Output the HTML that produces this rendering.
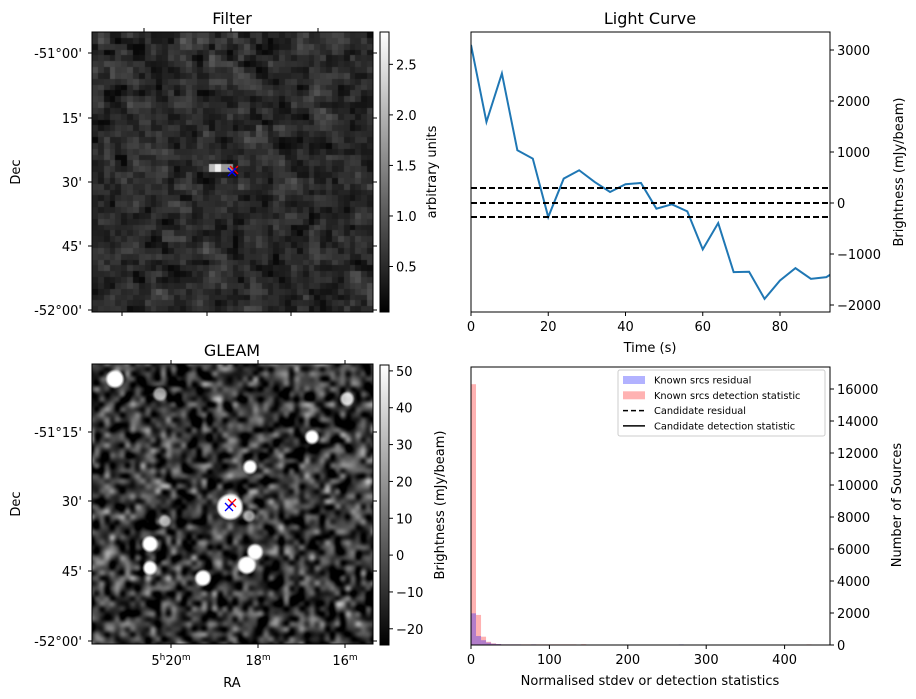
<!DOCTYPE html>
<html><head><meta charset="utf-8"><style>
body{margin:0;background:#fff;width:916px;height:699px;overflow:hidden;font-family:"Liberation Sans","DejaVu Sans",sans-serif}
svg text{font-family:"DejaVu Sans","Liberation Sans",sans-serif;fill:#000}
canvas{position:absolute}
</style></head><body>
<canvas id="filt" width="281" height="280" style="left:92px;top:32px"></canvas>
<canvas id="gleam" width="281" height="280" style="left:92px;top:364px"></canvas>
<svg id="s" width="916" height="699" style="position:absolute;left:0;top:0">
<defs>
<linearGradient id="gray" x1="0" y1="1" x2="0" y2="0"><stop offset="0" stop-color="#000"/><stop offset="1" stop-color="#fff"/></linearGradient>
<clipPath id="lcclip"><rect x="471" y="32" width="359" height="280"/></clipPath>
</defs>
</svg>
<script>
// ---- Light curve data ----
const lcTimes=[0,4,8,12,16,20,24,28,32,36,40,44,48,52,56,60,64,68,72,76,80,84,88,92,96];
const lcFlux=[3100,1590,2540,1035,870,-275,478,642,413,216,367,393,-111,-26,-164,-910,-393,-1356,-1349,-1880,-1520,-1277,-1487,-1454,-1260];
const lcThresh=[295,0,-275];
const lcXTicks=[0,20,40,60,80];
const lcYTicks=[3000,2000,1000,0,-1000,-2000];
// ---- Histogram data ----
const histBinWidth=6.4;
const redCounts=[16300,1880,520,200,100,60,40,40,40,40,40,40,40,40,40,40,40,40,40,40,40,0,40];
const blueCounts=[1980,560,300,150,80,60,40,40,40,40,20,20,40,20];
const redOutliers=[140,428];
const blueOutliers=[265];
const outlierCount=40;
const histXTicks=[0,100,200,300,400];
const histYTicks=[0,2000,4000,6000,8000,10000,12000,14000,16000];
const filtCbTicks=[0.5,1.0,1.5,2.0,2.5];
const gleamCbTicks=[-20,-10,0,10,20,30,40,50];

const S=document.getElementById('s');
const NS='http://www.w3.org/2000/svg';
function el(t,a,txt){const e=document.createElementNS(NS,t);for(const k in a)e.setAttribute(k,a[k]);if(txt!==undefined)e.textContent=txt;S.appendChild(e);return e;}

// Light curve axes
const lcX=t=>471+t*3.8625, lcY=v=>203-v*0.051;
let pts=lcTimes.map((t,i)=>lcX(t)+','+lcY(lcFlux[i])).join(' ');
let ln=el('polyline',{points:pts,fill:'none',stroke:'#1f77b4','stroke-width':2,'clip-path':'url(#lcclip)'});


lcThresh.forEach((v,i)=>{const l=el('line',{x1:471,x2:830,y1:lcY(v),y2:lcY(v),stroke:'#000','stroke-width':2,'stroke-dasharray':'6,3'});

});
el('rect',{x:471,y:32,width:359,height:280,fill:'none',stroke:'#000','stroke-width':1,});
lcXTicks.forEach(t=>{el('line',{x1:lcX(t),x2:lcX(t),y1:312,y2:316,stroke:'#000'});const tx=el('text',{x:lcX(t),y:331,'font-size':13,'text-anchor':'middle'},t);

});
lcYTicks.forEach(v=>{el('line',{x1:830,x2:834,y1:lcY(v),y2:lcY(v),stroke:'#000'});const tx=el('text',{x:837,y:lcY(v)+5,'font-size':13},String(v).replace('-','\u2212'));

});
el('text',{x:650,y:24,'font-size':16,'text-anchor':'middle',},'Light Curve');
el('text',{x:650,y:352,'font-size':13,'text-anchor':'middle',},'Time (s)');
el('text',{x:903,y:172,'font-size':13,'text-anchor':'middle',transform:'rotate(-90 903 172)',},'Brightness (mJy/beam)');

// Histogram
const hX=v=>471+v*0.784, hY=c=>645-c*0.016;
function bars(counts,color,name){counts.forEach((c,i)=>{if(!c)return;const r=el('rect',{x:hX(i*histBinWidth),y:hY(c),width:histBinWidth*0.784,height:645-hY(c),fill:color,'fill-opacity':0.3});

});}
bars(redCounts,'#ff0000','red-bar');
bars(blueCounts,'#0000ff','blue-bar');
redOutliers.forEach(v=>{const r=el('rect',{x:hX(v),y:hY(outlierCount),width:5,height:645-hY(outlierCount),fill:'#ff0000','fill-opacity':0.3});

});
blueOutliers.forEach(v=>{const r=el('rect',{x:hX(v),y:hY(outlierCount),width:5,height:645-hY(outlierCount),fill:'#0000ff','fill-opacity':0.3});

});
el('rect',{x:471,y:367,width:359,height:278,fill:'none',stroke:'#000',});
histXTicks.forEach(v=>{el('line',{x1:hX(v),x2:hX(v),y1:645,y2:649,stroke:'#000'});const tx=el('text',{x:hX(v),y:664,'font-size':13,'text-anchor':'middle'},v);

});
histYTicks.forEach(v=>{el('line',{x1:830,x2:834,y1:hY(v),y2:hY(v),stroke:'#000'});const tx=el('text',{x:837,y:hY(v)+5,'font-size':13},v);

});
el('text',{x:650,y:685,'font-size':13,'text-anchor':'middle',},'Normalised stdev or detection statistics');
el('text',{x:901,y:505,'font-size':13,'text-anchor':'middle',transform:'rotate(-90 901 505)',},'Number of Sources');
// legend
el('rect',{x:618,y:370,width:207,height:66,fill:'#fff',stroke:'#ccc',rx:2,});
[['Known srcs residual','b'],['Known srcs detection statistic','r'],['Candidate residual','d'],['Candidate detection statistic','s']].forEach((e,i)=>{const y=380+i*15.3;
if(e[1]=='b')el('rect',{x:623,y:y-4,width:22,height:8,fill:'#0000ff','fill-opacity':0.3});
if(e[1]=='r')el('rect',{x:623,y:y-4,width:22,height:8,fill:'#ff0000','fill-opacity':0.3});
if(e[1]=='d')el('line',{x1:623,x2:645,y1:y,y2:y,stroke:'#000','stroke-width':1.5,'stroke-dasharray':'5,3'});
if(e[1]=='s')el('line',{x1:623,x2:645,y1:y,y2:y,stroke:'#000','stroke-width':1.5});
const t=el('text',{x:654,y:y+3.5,'font-size':9.8},e[0]);

});

// Left panels frames/ticks
function imgPanel(top,title,decTicks,name){
 el('rect',{x:92,y:top,width:281,height:280,fill:'none',stroke:'#000',});
 el('text',{x:232,y:top-8,'font-size':16,'text-anchor':'middle',},title);
 decTicks.forEach(d=>{el('line',{x1:88,x2:92,y1:d[1],y2:d[1],stroke:'#000'});el('line',{x1:373,x2:377,y1:d[1],y2:d[1],stroke:'#000'});
 const t=el('text',{x:82,y:d[1]+5,'font-size':13,'text-anchor':'end'},d[0]);
 
 });
 el('text',{x:20,y:top+140,'font-size':13,'text-anchor':'middle',transform:`rotate(-90 20 ${top+140})`,},'Dec');
}
imgPanel(32,'Filter',[["-51°00'",53],["15'",118],["30'",182],["45'",246],["-52°00'",310]],'filter');
imgPanel(364,'GLEAM',[["-51°15'",432],["30'",501],["45'",571],["-52°00'",641]],'gleam');
[144,231,318].forEach(x=>el('line',{x1:x,x2:x,y1:28,y2:32,stroke:'#000'}));
[122,207,291].forEach(x=>el('line',{x1:x,x2:x,y1:312,y2:316,stroke:'#000'}));
[171,258,345].forEach(x=>{el('line',{x1:x,x2:x,y1:644,y2:648,stroke:'#000'});el('line',{x1:x,x2:x,y1:360,y2:364,stroke:'#000'});});
const ra=[[171,'5','h','20'],[258,'','','18'],[345,'','','16']];
ra.forEach(r=>{const t=el('text',{x:r[0],y:665,'font-size':13,'text-anchor':'middle'});t.innerHTML=(r[1]?'5<tspan font-size="9" dy="-5">h</tspan><tspan dy="5">'+r[3]+'</tspan>':r[3])+'<tspan font-size="9" dy="-5">m</tspan>';

});
el('text',{x:232,y:687,'font-size':13,'text-anchor':'middle',},'RA');
// colorbars
function cbar(top,ticks,vmin,vmax,label,lx,name){
 el('rect',{x:380,y:top,width:9,height:280,fill:'url(#gray)',stroke:'#000',});
 ticks.forEach(v=>{const y=top+280-(v-vmin)/(vmax-vmin)*280;el('line',{x1:389,x2:393,y1:y,y2:y,stroke:'#000'});
 const t=el('text',{x:396,y:y+5,'font-size':13},(vmax<10?v.toFixed(1):String(v)).replace('-','\u2212'));
 
 });
 el('text',{x:lx,y:top+140,'font-size':13,'text-anchor':'middle',transform:`rotate(-90 ${lx} ${top+140})`,},label);
}
cbar(32,filtCbTicks,0.05,2.82,'arbitrary units',436,'filter-colorbar');
cbar(365,gleamCbTicks,-24.4,51.6,'Brightness (mJy/beam)',444,'gleam-colorbar');
// markers
function cross(x,y,c){el('path',{d:`M${x-4},${y-4}L${x+4},${y+4}M${x-4},${y+4}L${x+4},${y-4}`,stroke:c,'stroke-width':1.3,fill:'none'});}
cross(234,170,'#f00');cross(232,172,'#00f');
cross(232,503,'#f00');cross(229,507,'#00f');

// textures
let seed=7;function rnd(){seed=(seed*16807)%2147483647;return seed/2147483647;}
function gauss(){return (rnd()+rnd()+rnd()+rnd()-2);}
(function(){const cv=document.getElementById('filt');const c=cv.getContext('2d');const n=48,w=281/n,h=280/n;
const off=document.createElement('canvas');off.width=n;off.height=n;const o=off.getContext('2d');
let g=[];for(let i=0;i<n+1;i++){g.push([]);for(let j=0;j<n+1;j++)g[i].push(gauss());}
for(let i=0;i<n;i++)for(let j=0;j<n;j++){let z=(g[i][j]*2+g[i+1][j]+g[i][j+1]+g[i+1][j+1])/3;let v=42+z*30;v=Math.max(8,Math.min(120,v));o.fillStyle=`rgb(${v|0},${v|0},${v|0})`;o.fillRect(j,i,1,1);}
c.imageSmoothingEnabled=false;c.drawImage(off,0,0,281,280);
c.fillStyle='#f0f0f0';c.fillRect(123,132,6,8);c.fillStyle='#bbb';c.fillRect(117,132,6,8);c.fillStyle='#999';c.fillRect(129,132,12,8);})();
(function(){const cv=document.getElementById('gleam');const c=cv.getContext('2d');const n=56;const off=document.createElement('canvas');off.width=n;off.height=n;const o=off.getContext('2d');
for(let i=0;i<n;i++)for(let j=0;j<n;j++){let v=70+gauss()*95;v=Math.max(0,Math.min(220,v));o.fillStyle=`rgb(${v|0},${v|0},${v|0})`;o.fillRect(j,i,1,1);}
c.imageSmoothingEnabled=true;c.filter='blur(1.5px) contrast(1.3)';c.drawImage(off,-3,-3,287,286);c.filter='none';
const blobs=[[23,15,7,1],[68,30,5,0.6],[255,35,5,0.8],[220,73,5,1],[158,103,5,1],[138,143,11,1],[157,152,4,0.6],[73,157,4,0.6],[58,180,6,1],[58,204,5,1],[163,188,6,1],[155,201,7,1],[111,214,6,1]];
blobs.forEach(b=>{const R=b[2]+3;const g=c.createRadialGradient(b[0],b[1],0,b[0],b[1],R);g.addColorStop(0,`rgba(255,255,255,${b[3]})`);g.addColorStop(b[2]/R,`rgba(255,255,255,${b[3]})`);g.addColorStop(1,'rgba(255,255,255,0)');c.fillStyle=g;c.beginPath();c.arc(b[0],b[1],R,0,7);c.fill();});})();
</script>
</body></html>
